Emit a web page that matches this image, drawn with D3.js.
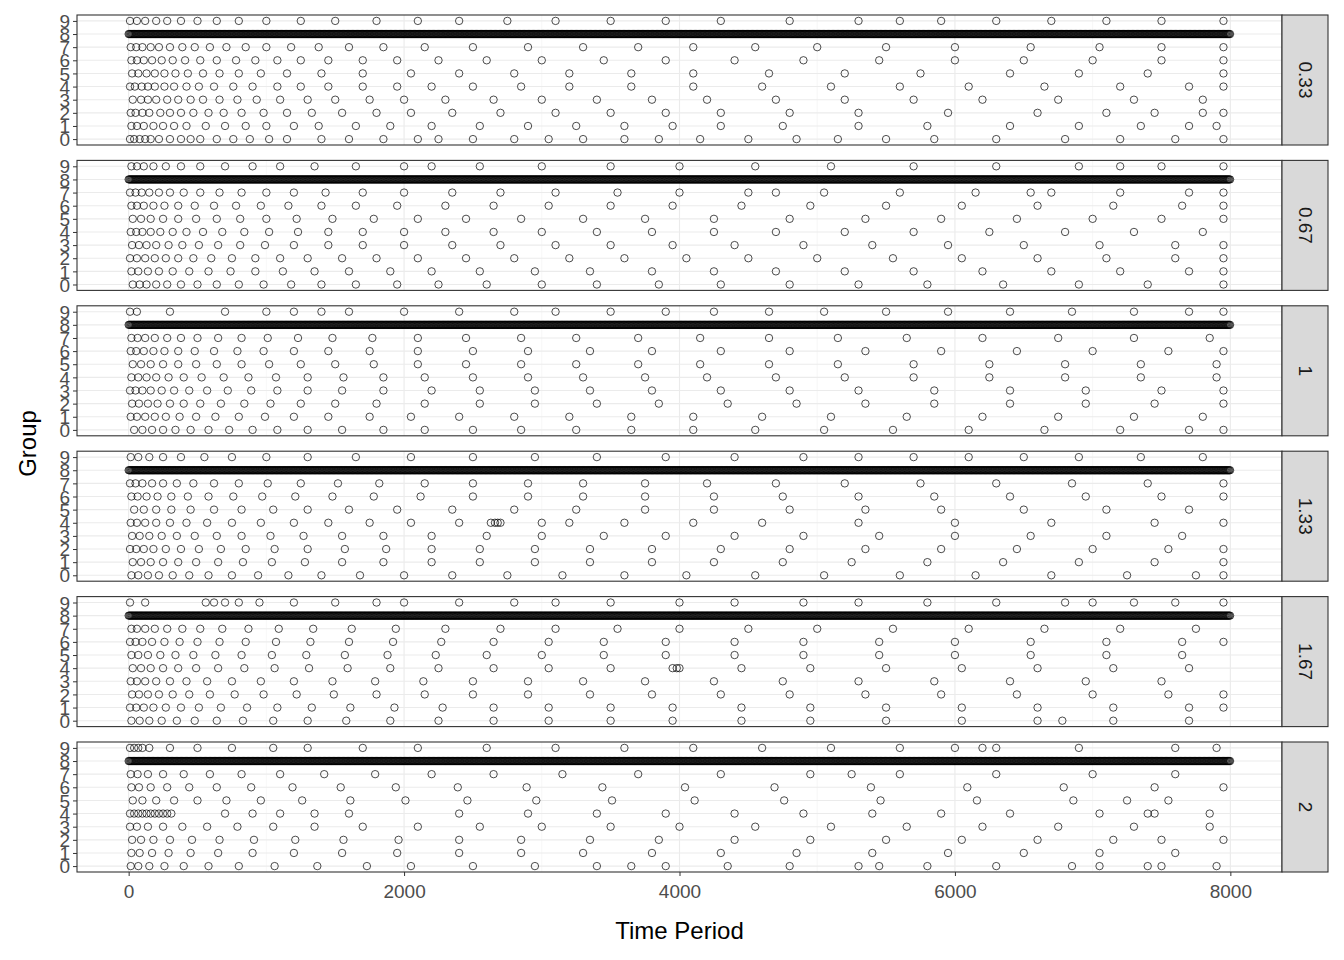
<!DOCTYPE html>
<html lang="en">
<head>
<meta charset="UTF-8">
<title>Group by Time Period</title>
<style>
  body { margin: 0; background: #fff; }
  text { font-family: Arial, "Liberation Sans", sans-serif; }
</style>
</head>
<body>
<svg id="chart" width="1344" height="960"></svg>
<script src="https://d3js.org/d3.v7.min.js"></script>
<script>
// facet labels
const facets = ["0.33", "0.67", "1", "1.33", "1.67", "2"];
const groups = [0, 1, 2, 3, 4, 5, 6, 7, 8, 9];
const xTicks = [0, 2000, 4000, 6000, 8000];

// approximate time values per group (0..7, 9) for each facet
const f033 = [
  "10 40 80 120 160 220 300 380 450 520 640 760 880 1020 1150 1400 1600 1850 2100 2250 2500 2800 3050 3300 3600 3850 4150 4500 4850 5150 5500 5850 6300 6800 7200 7600 7950",
  "20 60 110 180 250 330 420 560 700 850 1000 1200 1380 1650 1900 2200 2550 2900 3250 3600 3950 4300 4750 5300 5800 6400 6900 7350 7700 7900",
  "15 50 100 150 230 300 380 470 580 690 820 980 1150 1330 1550 1800 2050 2350 2700 3100 3500 3900 4300 4800 5300 5950 6600 7100 7450 7800 7950",
  "30 90 140 200 280 360 450 540 660 790 930 1100 1300 1500 1750 2000 2300 2650 3000 3400 3800 4200 4700 5200 5700 6200 6750 7300 7800",
  "10 45 95 140 190 260 330 420 510 620 760 900 1080 1250 1450 1700 1950 2200 2500 2850 3200 3650 4100 4600 5100 5600 6100 6650 7200 7700 7950",
  "25 70 130 190 260 340 430 540 660 800 960 1150 1400 1700 2050 2400 2800 3200 3650 4100 4650 5200 5750 6400 6900 7400 7950",
  "20 60 110 170 240 320 410 520 640 780 920 1080 1250 1450 1700 1950 2250 2600 3000 3450 3900 4400 4900 5450 6000 6500 7000 7500 7950",
  "15 55 100 160 220 300 390 480 590 710 850 1000 1180 1380 1600 1850 2150 2500 2900 3300 3700 4100 4550 5000 5500 6000 6550 7050 7500 7950",
  "10 60 120 200 280 380 500 640 800 1000 1250 1500 1800 2100 2400 2750 3100 3500 3900 4300 4800 5300 5600 5900 6300 6700 7100 7500 7950"
];
const f067 = [
  "30 80 130 200 280 380 500 640 800 980 1180 1400 1650 1950 2250 2600 3000 3400 3850 4300 4800 5300 5800 6350 6900 7400 7950",
  "20 70 140 220 320 440 580 740 920 1120 1350 1600 1900 2200 2550 2950 3350 3800 4250 4700 5200 5700 6200 6700 7200 7700 7950",
  "10 60 120 190 270 360 470 600 750 920 1100 1300 1550 1800 2100 2450 2800 3200 3600 4050 4500 5000 5550 6050 6600 7100 7600 7950",
  "25 75 130 200 290 390 510 650 810 990 1200 1450 1700 2000 2350 2700 3100 3500 3950 4400 4900 5400 5950 6500 7050 7600 7950",
  "15 55 100 160 230 320 420 540 680 840 1020 1230 1450 1700 2000 2300 2650 3000 3400 3800 4250 4700 5200 5700 6250 6800 7300 7800",
  "30 90 160 250 360 490 640 810 1000 1220 1480 1780 2100 2450 2850 3300 3750 4250 4800 5350 5900 6450 7000 7500 7950",
  "20 60 110 180 260 360 480 620 780 960 1160 1400 1650 1950 2300 2650 3050 3500 3950 4450 4950 5500 6050 6600 7150 7650 7950",
  "10 50 95 150 220 300 400 520 660 820 1000 1200 1430 1700 2000 2350 2700 3100 3550 4000 4500 4700 5050 5600 6150 6550 6700 7200 7700 7950",
  "20 60 110 180 270 380 520 700 900 1100 1350 1650 2000 2200 2550 3000 3500 4000 4550 5100 5700 6300 6900 7200 7500 7950"
];
const f100 = [
  "40 100 170 250 340 450 580 730 900 1080 1300 1550 1850 2150 2500 2850 3250 3650 4100 4550 5050 5550 6100 6650 7200 7700 7950",
  "15 60 120 190 270 370 490 630 800 990 1200 1450 1750 2050 2400 2800 3200 3650 4100 4600 5100 5650 6200 6750 7300 7800",
  "25 75 140 210 300 400 520 670 840 1030 1250 1500 1800 2150 2550 2950 3400 3850 4350 4850 5350 5850 6400 6950 7450 7950",
  "10 50 100 160 240 330 440 570 720 890 1080 1300 1550 1850 2200 2550 2950 3350 3800 4300 4800 5300 5850 6400 6950 7500 7950",
  "20 70 130 200 290 400 530 690 870 1070 1300 1560 1850 2150 2500 2900 3300 3750 4200 4700 5200 5700 6250 6800 7350 7900",
  "30 90 160 250 360 490 640 820 1020 1250 1500 1780 2100 2450 2850 3250 3700 4150 4650 5150 5700 6250 6800 7350 7900",
  "15 55 110 180 260 360 480 620 790 980 1200 1450 1750 2100 2500 2900 3350 3800 4300 4800 5350 5900 6450 7000 7550 7950",
  "20 65 120 190 280 380 500 650 820 1010 1230 1480 1770 2100 2450 2850 3250 3700 4150 4650 5150 5650 6200 6750 7300 7850",
  "10 60 300 700 1000 1200 1400 1600 2000 2400 2800 3100 3500 3900 4250 4650 5050 5500 5950 6400 6850 7300 7700 7950"
];
const f133 = [
  "20 70 140 220 320 440 580 750 940 1160 1400 1680 2000 2350 2750 3150 3600 4050 4550 5050 5600 6150 6700 7250 7750 7950",
  "30 90 160 250 360 490 650 830 1040 1280 1550 1850 2200 2550 2950 3350 3800 4250 4750 5250 5800 6350 6900 7450 7950",
  "10 55 110 180 270 380 510 670 850 1060 1300 1570 1870 2200 2550 2950 3350 3800 4300 4800 5350 5900 6450 7000 7550 7950",
  "25 80 150 240 350 480 640 820 1030 1270 1550 1850 2200 2600 3000 3450 3900 4400 4900 5450 6000 6550 7100 7650",
  "15 60 120 200 300 420 570 750 960 1200 1450 1750 2050 2400 2630 2660 2680 2700 3000 3200 3600 4100 4600 5300 6000 6700 7450 7950",
  "40 110 200 310 450 620 820 1050 1300 1600 1950 2350 2800 3250 3750 4250 4800 5350 5900 6500 7100 7700",
  "20 65 130 210 310 430 580 760 970 1210 1480 1780 2120 2500 2900 3300 3750 4250 4750 5300 5850 6400 6950 7500 7950",
  "10 50 100 170 250 350 470 620 800 1010 1250 1520 1820 2150 2500 2900 3300 3750 4200 4700 5200 5750 6300 6850 7400 7950",
  "15 70 150 250 380 550 750 1000 1300 1650 2050 2500 2950 3400 3900 4400 4900 5300 5700 6100 6500 6900 7350 7800"
];
const f167 = [
  "20 80 150 240 350 480 640 830 1050 1300 1580 1900 2250 2650 3050 3500 3950 4450 4950 5500 6050 6600 6780 7150 7700",
  "10 55 110 180 270 380 510 670 860 1080 1330 1610 1930 2280 2650 3050 3500 3950 4450 4950 5500 6050 6600 7150 7700 7950",
  "25 75 140 220 320 440 590 770 980 1220 1490 1800 2150 2500 2900 3350 3800 4300 4800 5350 5900 6450 7000 7550 7950",
  "15 60 120 200 300 420 570 750 960 1200 1480 1790 2140 2500 2900 3300 3750 4250 4750 5300 5850 6400 6950 7500",
  "30 90 160 250 360 490 650 840 1060 1310 1590 1900 2250 2650 3050 3500 3950 3980 4000 4450 4950 5500 6050 6600 7150 7700",
  "20 70 140 230 340 470 630 820 1040 1290 1570 1880 2230 2600 3000 3450 3900 4400 4900 5450 6000 6550 7100 7650",
  "10 50 100 170 260 370 500 660 850 1070 1320 1600 1920 2270 2650 3050 3450 3900 4400 4900 5450 6000 6550 7100 7650 7950",
  "20 60 120 190 280 390 520 680 870 1090 1340 1620 1940 2300 2700 3100 3550 4000 4500 5000 5550 6100 6650 7200 7750",
  "10 120 560 620 700 800 950 1200 1500 1800 2000 2400 2800 3100 3500 4000 4400 4900 5300 5800 6300 6800 7000 7300 7600 7950"
];
const f200 = [
  "15 70 150 260 400 580 800 1060 1370 1730 2050 2500 2950 3400 3650 3900 4350 4800 5300 5450 5800 6300 6850 7050 7400 7500 7900",
  "20 80 170 290 450 650 900 1200 1550 1950 2400 2850 3300 3800 4300 4850 5400 5950 6500 7050 7600",
  "25 90 180 300 460 660 910 1210 1560 1960 2400 2850 3350 3850 4400 4950 5500 6050 6600 7150 7500 7950",
  "10 60 140 250 390 570 790 1050 1350 1700 2100 2550 3000 3500 4000 4550 5100 5650 6200 6750 7300 7850",
  "10 40 70 100 130 160 190 220 250 280 310 700 900 1100 1350 1600 2400 2900 3400 3900 4400 4900 5400 5900 6400 7050 7400 7450 7850",
  "30 100 200 330 500 710 960 1260 1610 2010 2460 2960 3510 4110 4760 5460 6160 6860 7250 7550",
  "20 75 160 280 440 640 890 1190 1540 1940 2390 2890 3440 4040 4690 5390 6090 6790 7450 7950",
  "15 65 140 250 400 590 820 1100 1420 1790 2200 2650 3150 3700 4300 4950 5250 5600 6300 7000 7600",
  "10 40 70 100 150 300 500 750 1050 1300 1700 2100 2600 3100 3600 4100 4600 5100 5600 6000 6200 6300 6900 7600 7900"
];
const facetData = [f033, f067, f100, f133, f167, f200];
// dense runs for group 8 (start, end, step) per facet
const dense8 = [[0, 8000, 6], [0, 8000, 6], [0, 8000, 6], [0, 8000, 6], [0, 8000, 6], [0, 8000, 6]];
const rowGroups = [0, 1, 2, 3, 4, 5, 6, 7, 9];

const svg = d3.select("#chart");
const left = 77, right = 1282, stripW = 46;
const top0 = 15, panelH = 130, gap = 15.4;

const x = d3.scaleLinear().domain([-375, 8375]).range([left, right]);

facets.forEach((f, i) => {
  const y0 = top0 + i * (panelH + gap);
  const y = d3.scaleLinear().domain([-0.45, 9.45]).range([y0 + panelH, y0]);
  const g = svg.append("g");

  // minor grid
  g.selectAll(".minor").data([1000, 3000, 5000, 7000]).join("line")
    .attr("x1", d => x(d)).attr("x2", d => x(d))
    .attr("y1", y0).attr("y2", y0 + panelH)
    .attr("stroke", "#f2f2f2").attr("stroke-width", 0.6);
  // major grid
  g.selectAll(".vx").data(xTicks).join("line")
    .attr("x1", d => x(d)).attr("x2", d => x(d))
    .attr("y1", y0).attr("y2", y0 + panelH)
    .attr("stroke", "#ebebeb").attr("stroke-width", 1.1);
  g.selectAll(".hy").data(groups).join("line")
    .attr("x1", left).attr("x2", right)
    .attr("y1", d => y(d)).attr("y2", d => y(d))
    .attr("stroke", "#ebebeb").attr("stroke-width", 1.1);

  // points
  const pts = [];
  facetData[i].forEach((s, k) => {
    s.split(" ").map(Number).forEach(t => pts.push([t, rowGroups[k]]));
  });
  const [a, b, st] = dense8[i];
  d3.range(a, b + 1, st).forEach(t => pts.push([t, 8]));
  g.selectAll("circle").data(pts).join("circle")
    .attr("cx", d => x(d[0])).attr("cy", d => y(d[1])).attr("r", 3.7)
    .attr("fill", "none").attr("stroke", "#000").attr("stroke-width", 0.7);

  // border
  g.append("rect").attr("x", left).attr("y", y0).attr("width", right - left).attr("height", panelH)
    .attr("fill", "none").attr("stroke", "#333").attr("stroke-width", 1.1);

  // strip
  g.append("rect").attr("x", right).attr("y", y0).attr("width", stripW).attr("height", panelH)
    .attr("fill", "#d9d9d9").attr("stroke", "#333").attr("stroke-width", 1.1);
  g.append("text")
    .attr("transform", `translate(${right + stripW / 2},${y0 + panelH / 2}) rotate(90)`)
    .attr("text-anchor", "middle").attr("dominant-baseline", "central")
    .attr("font-size", 19).attr("fill", "#1a1a1a").text(f);

  // y axis
  const ya = g.append("g").attr("transform", `translate(${left},0)`)
    .call(d3.axisLeft(y).tickValues(groups).tickSize(4).tickFormat(d3.format("d")));
  ya.select(".domain").remove();
  ya.selectAll("line").attr("stroke", "#333");
  ya.selectAll("text").attr("font-size", 19).attr("fill", "#4d4d4d").attr("dy", "0.35em").attr("x", -7);
});

// x axis
const bottom = top0 + 5 * (panelH + gap) + panelH;
const xa = svg.append("g").attr("transform", `translate(0,${bottom})`)
  .call(d3.axisBottom(x).tickValues(xTicks).tickSize(4).tickFormat(d3.format("d")));
xa.select(".domain").remove();
xa.selectAll("line").attr("stroke", "#333");
xa.selectAll("text").attr("font-size", 19).attr("fill", "#4d4d4d").attr("dy", "1em");

svg.append("text").attr("x", (left + right) / 2).attr("y", 939)
  .attr("text-anchor", "middle").attr("font-size", 24).attr("fill", "#000").text("Time Period");
svg.append("text").attr("transform", `translate(36,${top0 + (bottom - top0) / 2}) rotate(-90)`)
  .attr("text-anchor", "middle").attr("font-size", 24).attr("fill", "#000").text("Group");
</script>
</body>
</html>
